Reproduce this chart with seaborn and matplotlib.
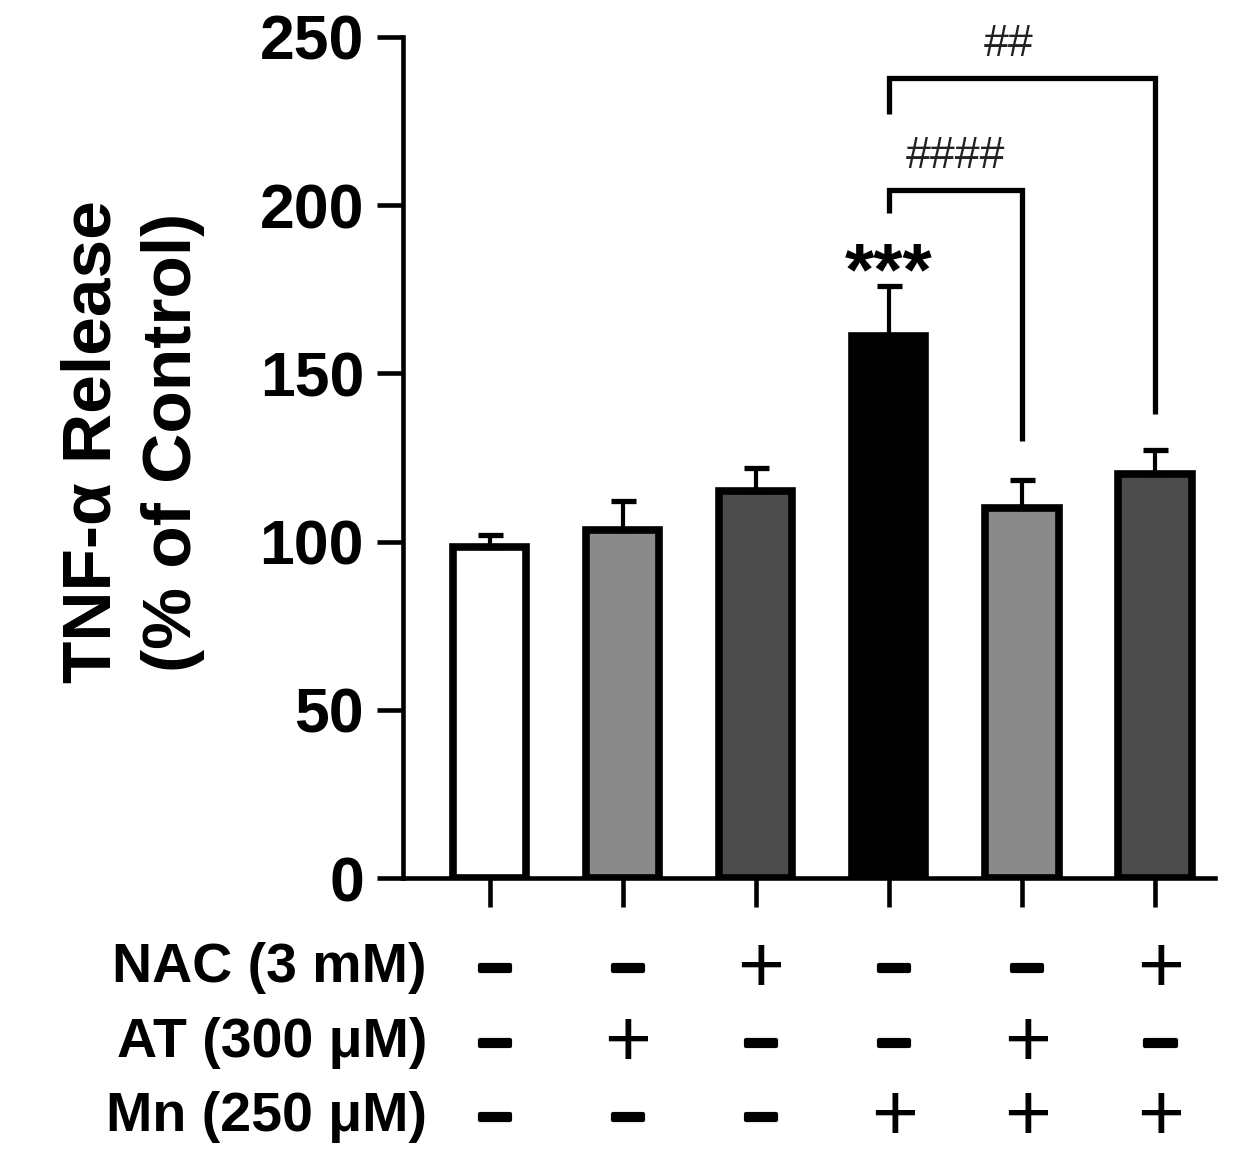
import matplotlib
matplotlib.use("Agg")
import matplotlib.pyplot as plt
import matplotlib.patheffects as pe
import seaborn as sns
import numpy as np
import pandas as pd

# ---- data ----
groups = ["Control", "AT", "NAC", "Mn", "Mn+AT", "Mn+NAC"]
means = [98.5, 103.5, 115, 161, 110, 120]
sems = [3.5, 8.5, 7, 15, 8.3, 7.2]
bar_colors = ["#ffffff", "#8a8a8a", "#4b4b4b", "#000000", "#8a8a8a", "#4b4b4b"]

row_labels = ["NAC (3 mM)", "AT (300 μM)", "Mn (250 μM)"]
nac = ["-", "-", "+", "-", "-", "+"]
at = ["-", "+", "-", "-", "+", "-"]
mn = ["-", "-", "-", "+", "+", "+"]

star_group = 3
star_text = "***"
# comparisons: (from, to, label, bar height, left leg bottom, right leg bottom)
comp_from = [3, 3]
comp_to = [4, 5]
comp_labels = ["####", "##"]
comp_top = [204.5, 237.8]
comp_left_bottom = [197.7, 227]
comp_right_bottom = [130, 138]

yticks = [0, 50, 100, 150, 200, 250]
ylabel = "TNF-α Release\n(% of Control)"

# ---- plot ----
sns.set_style("ticks")
plt.rcParams['font.family'] = ['Liberation Sans', 'DejaVu Sans']
for k in ["text.color", "axes.labelcolor", "xtick.color", "ytick.color", "axes.edgecolor"]:
    plt.rcParams[k] = "black"

fig = plt.figure(figsize=(12.6, 11.73), dpi=100)
ax = fig.add_axes([403/1260, 1-878/1173, (1215-403)/1260, (878-37)/1173])

df = pd.DataFrame({"group": groups, "value": means})
sns.barplot(data=df, x="group", y="value", hue="group", order=groups,
            hue_order=groups, palette=bar_colors, legend=False,
            edgecolor="black", linewidth=5.5, width=0.55, errorbar=None,
            saturation=1, ax=ax)

xs = np.arange(len(groups))
ax.errorbar(xs, means, yerr=[np.zeros(len(sems)), sems], fmt="none",
            ecolor="black", elinewidth=3, capsize=9, capthick=3.8, zorder=1)

ax.set_xlim(-0.65, 5.45)
ax.set_ylim(0, 250)
ax.set_yticks(yticks)
ax.set_yticklabels([str(t) for t in yticks], fontsize=45, fontweight="bold")
ax.set_xticks(xs)
ax.set_xticklabels([""] * len(xs))
ax.set_xlabel("")
ax.set_ylabel("")
for s in ["top", "right"]:
    ax.spines[s].set_visible(False)
for s in ["left", "bottom"]:
    ax.spines[s].set_linewidth(3.3)
ax.tick_params(axis="y", length=19, width=3.3, pad=9)
ax.tick_params(axis="x", length=21, width=3.3)

# y label
fig.text(0.105, 1-442/1173, ylabel, rotation=90, ha="center", va="center",
         fontsize=50, fontweight="bold", linespacing=1.33, multialignment="center")

# significance stars
ax.text(star_group, means[star_group] + sems[star_group] - 2.5, star_text,
        ha="center", va="baseline", fontsize=54, fontweight="bold")

# brackets
for f, t, lab, top, lb, rb in zip(comp_from, comp_to, comp_labels, comp_top,
                                  comp_left_bottom, comp_right_bottom):
    ax.plot([f, f, t, t], [lb, top, top, rb], color="black", lw=3.8,
            solid_capstyle="butt", solid_joinstyle="miter", clip_on=False)
    ax.text((f + t) / 2 - (t - f - 1) * 0.1, top + 4, lab, ha="center", va="bottom",
            fontsize=32, color="#222222", clip_on=False)

# treatment table
trans = ax.get_xaxis_transform()
row_y = [-0.100, -0.189, -0.277]
for lab, vals, yy in zip(row_labels, [nac, at, mn], row_y):
    ax.text(-0.47, yy, lab, transform=trans, ha="right", va="center_baseline",
            fontsize=40, fontweight="bold", clip_on=False)
    for xi, v in zip(xs, vals):
        if v == "+":
            ax.text(xi + 0.04, yy, "+", transform=trans, ha="center",
                    va="center_baseline", fontsize=58, fontweight="normal",
                    clip_on=False)
        else:
            ax.text(xi + 0.04, yy, "–", transform=trans, ha="center",
                    va="center_baseline", fontsize=44, fontweight="bold",
                    clip_on=False,
                    path_effects=[pe.withStroke(linewidth=3, foreground="black")])

fig.savefig("out.png", dpi=100, facecolor="white")
